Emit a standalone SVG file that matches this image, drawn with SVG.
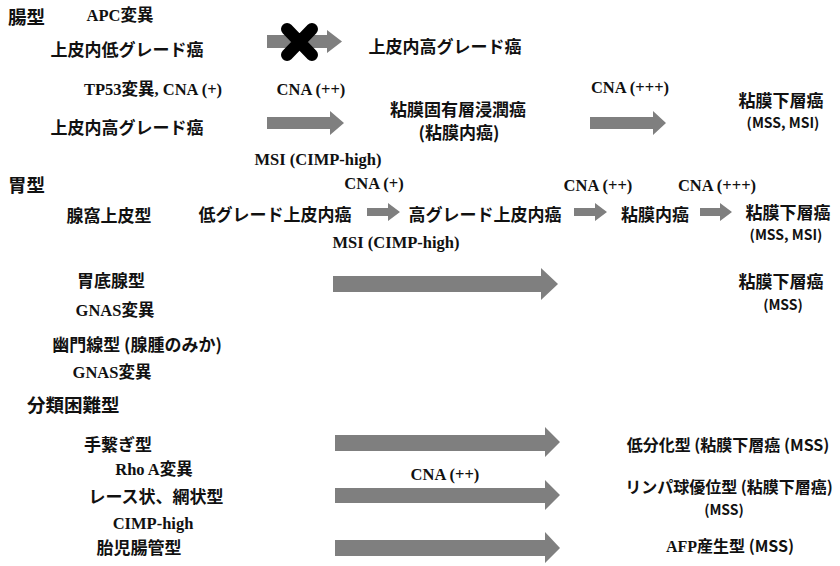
<svg xmlns="http://www.w3.org/2000/svg" width="840" height="566" viewBox="0 0 840 566">
<style>
.j{font-family:"Noto Sans CJK JP","Noto Sans",sans-serif;font-size:17px;font-weight:bold;fill:#111;text-anchor:middle}
.h{font-family:"Noto Sans CJK JP","Noto Sans",sans-serif;font-size:18.5px;font-weight:bold;fill:#111}
.s{font-family:"Liberation Serif","Noto Sans CJK JP",serif;font-size:16.5px;font-weight:bold;fill:#111;text-anchor:middle}
.m{font-family:"Noto Sans CJK JP","Noto Sans",sans-serif;font-size:14px;font-weight:bold;fill:#111;text-anchor:middle}
.a{fill:#7f7f7f}
</style>
<rect width="840" height="566" fill="#fff"/>
<g id="connectors">
  <path class="a" d="M267,35 H327 V30 L342,41.5 L327,53 V48 H267 Z"/>
  <path d="M287,29 L312,55 M312,29 L287,55" stroke="#000" stroke-width="12" stroke-linecap="round"/>
  <path class="a" d="M267,117 H330 V111 L344,123 L330,135 V129 H267 Z"/>
  <path class="a" d="M590,117 H653 V111 L666,123 L653,135 V129 H590 Z"/>
  <path class="a" d="M367,208 H388 V203 L400,212 L388,221 V216 H367 Z"/>
  <path class="a" d="M574,208 H595 V203 L607,212 L595,221 V216 H574 Z"/>
  <path class="a" d="M700,208 H720 V203 L732,212 L720,221 V216 H700 Z"/>
  <path class="a" d="M333,276 H541 V268 L558,284 L541,300 V292 H333 Z"/>
  <path class="a" d="M335,435 H545 V427 L560,442 L545,457 V451 H335 Z"/>
  <path class="a" d="M335,488 H545 V480 L560,495 L545,510 V503 H335 Z"/>
  <path class="a" d="M335,540 H545 V532 L560,548 L545,563 V556 H335 Z"/>
</g>
<g id="intestinal">
  <text class="h" x="8" y="24">腸型</text>
  <text class="s" x="120" y="21">APC変異</text>
  <text class="j" x="127" y="56">上皮内低グレード癌</text>
  <text class="j" x="445" y="53">上皮内高グレード癌</text>
  <text class="s" x="153" y="95">TP53変異, CNA (+)</text>
  <text class="s" x="311" y="95">CNA (++)</text>
  <text class="j" x="127" y="134">上皮内高グレード癌</text>
  <text class="j" x="458" y="116">粘膜固有層浸潤癌</text>
  <text class="j" x="459" y="139">(粘膜内癌)</text>
  <text class="s" x="630" y="93">CNA (+++)</text>
  <text class="j" x="781" y="107">粘膜下層癌</text>
  <text class="m" x="783" y="128">(MSS, MSI)</text>
  <text class="s" x="318" y="165">MSI (CIMP-high)</text>
</g>
<g id="gastric">
  <text class="h" x="8" y="192">胃型</text>
  <text class="s" x="374" y="189">CNA (+)</text>
  <text class="s" x="598" y="191">CNA (++)</text>
  <text class="s" x="717" y="191">CNA (+++)</text>
  <text class="j" x="109" y="222">腺窩上皮型</text>
  <text class="j" x="275" y="221">低グレード上皮内癌</text>
  <text class="j" x="485" y="221">高グレード上皮内癌</text>
  <text class="j" x="655" y="221">粘膜内癌</text>
  <text class="j" x="788" y="219">粘膜下層癌</text>
  <text class="m" x="786" y="240">(MSS, MSI)</text>
  <text class="s" x="396" y="248">MSI (CIMP-high)</text>
  <text class="j" x="111" y="287">胃底腺型</text>
  <text class="s" x="115" y="316">GNAS変異</text>
  <text class="j" x="781" y="288">粘膜下層癌</text>
  <text class="m" x="783" y="310">(MSS)</text>
  <text class="j" x="137" y="351">幽門線型 (腺腫のみか)</text>
  <text class="s" x="112" y="378">GNAS変異</text>
</g>
<g id="unclassified">
  <text class="h" x="27" y="412">分類困難型</text>
  <text class="j" x="118" y="451">手繋ぎ型</text>
  <text class="s" x="154" y="475">Rho A変異</text>
  <text class="s" x="445" y="480">CNA (++)</text>
  <text class="j" x="156" y="503">レース状、網状型</text>
  <text class="s" x="153" y="529">CIMP-high</text>
  <text class="j" x="139" y="554">胎児腸管型</text>
  <text class="j" x="728" y="451" style="font-size:16px">低分化型 (粘膜下層癌 (MSS)</text>
  <text class="j" x="729" y="493" style="font-size:16px">リンパ球優位型 (粘膜下層癌)</text>
  <text class="m" x="724" y="515">(MSS)</text>
  <text class="j" x="730" y="552" style="font-size:16px"><tspan style="font-family:'Liberation Serif',serif">AFP</tspan>産生型 (MSS)</text>
</g>
</svg>
